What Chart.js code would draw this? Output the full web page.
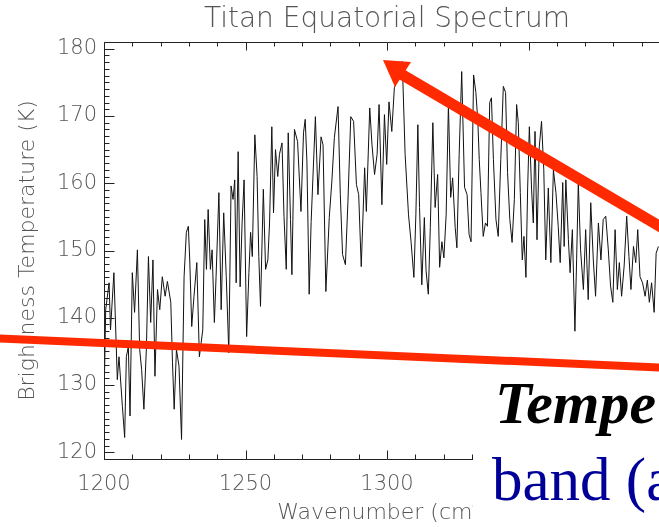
<!DOCTYPE html>
<html>
<head>
<meta charset="utf-8">
<title>Titan Equatorial Spectrum</title>
<script src="https://cdn.jsdelivr.net/npm/chart.js@4.4.1/dist/chart.umd.min.js"></script>
<style>
  html, body { margin: 0; padding: 0; background: #fff; width: 659px; height: 527px; overflow: hidden; }
  #spectrum { position: absolute; left: 0; top: 0; }
  #overlay { position: absolute; left: 0; top: 0; }
</style>
</head>
<body>
<canvas id="spectrum" width="774" height="527"></canvas>
<svg id="overlay" width="659" height="527">
  <rect x="473" y="372" width="186" height="155" fill="#fff"/>
  <text x="495" y="423" font-family="'Liberation Serif','Times New Roman',serif" font-size="60" font-weight="bold" font-style="italic" fill="#000">Tempe</text>
  <text x="492" y="500" font-family="'Liberation Serif','Times New Roman',serif" font-size="61" fill="#000099">band (a</text>
  <line x1="-10" y1="338" x2="670" y2="368" stroke="#ff2a00" stroke-width="8"/>
  <line x1="665" y1="229.5" x2="401" y2="74" stroke="#ff2a00" stroke-width="11"/>
  <polygon points="383,60 411,62 395,87" fill="#ff2a00"/>
</svg>
<script>
// spectrum (wavenumber in cm-1, brightness temperature in K)
const wavenumbers = [
  1200.0, 1200.6, 1201.8, 1202.3, 1203.5, 1204.7, 1205.3, 1206.5, 1207.3, 1207.9,
  1208.6, 1209.2, 1210.0, 1210.8, 1211.8, 1212.6, 1213.3, 1214.1, 1215.0, 1215.7,
  1216.5, 1217.3, 1218.0, 1218.9, 1219.7, 1220.6, 1221.6, 1222.4, 1223.6, 1224.2,
  1224.8, 1225.6, 1226.5, 1227.4, 1228.3, 1229.1, 1229.8, 1230.3, 1231.0, 1231.8,
  1232.8, 1233.7, 1234.9, 1235.6, 1236.2, 1236.8, 1237.6, 1238.2, 1239.0, 1239.6,
  1240.6, 1241.4, 1242.3, 1243.2, 1244.1, 1244.9, 1245.6, 1246.2, 1246.7, 1247.4,
  1248.1, 1248.8, 1249.5, 1250.4, 1251.2, 1251.8, 1252.4, 1253.3, 1254.1, 1254.7,
  1255.3, 1256.3, 1257.1, 1257.9, 1258.5, 1259.3, 1259.9, 1260.6, 1261.4, 1262.0,
  1262.9, 1263.6, 1264.4, 1265.1, 1265.9, 1266.4, 1267.3, 1268.4, 1269.6, 1270.5,
  1271.1, 1271.7, 1272.5, 1273.2, 1274.7, 1275.6, 1276.7, 1277.4, 1278.4, 1279.6,
  1280.5, 1281.4, 1282.7, 1283.5, 1284.3, 1285.3, 1286.2, 1287.2, 1288.2, 1289.2,
  1290.0, 1290.9, 1292.1, 1292.7, 1293.9, 1294.7, 1295.6, 1296.5, 1297.2, 1298.2,
  1299.1, 1299.9, 1300.7, 1301.7, 1302.6, 1303.4, 1304.6, 1305.4, 1306.4, 1307.6,
  1308.5, 1309.5, 1310.2, 1310.9, 1311.5, 1312.3, 1313.2, 1313.8, 1314.6, 1315.3,
  1316.2, 1317.0, 1317.9, 1318.6, 1319.4, 1320.1, 1320.9, 1321.7, 1322.5, 1323.2,
  1324.1, 1324.7, 1325.5, 1326.4, 1327.4, 1328.3, 1329.0, 1329.7, 1330.6, 1331.4,
  1332.1, 1332.6, 1333.2, 1334.0, 1334.8, 1335.5, 1336.3, 1336.9, 1337.6, 1338.5,
  1339.3, 1340.2, 1341.1, 1341.9, 1342.6, 1343.4, 1344.2, 1345.0, 1345.8, 1346.4,
  1347.1, 1347.8, 1348.4, 1349.1, 1349.7, 1350.3, 1351.1, 1351.7, 1352.3, 1353.0,
  1353.8, 1354.6, 1355.4, 1356.1, 1357.0, 1357.9, 1358.8, 1359.7, 1360.5, 1361.2,
  1362.1, 1362.6, 1363.2, 1364.1, 1364.7, 1365.5, 1366.4, 1367.0, 1367.6, 1368.4,
  1369.4, 1370.2, 1371.1, 1372.0, 1372.9, 1373.7, 1374.7, 1375.6, 1376.4, 1377.3,
  1378.2, 1379.0, 1379.8, 1380.6, 1381.4, 1382.1, 1382.9, 1383.8, 1384.7, 1385.5,
  1386.2, 1387.1, 1387.9, 1388.6, 1389.4, 1390.3, 1391.2, 1392.0, 1392.7, 1393.5,
  1394.4, 1395.1, 1395.9
];
const brightnessTemps = [
  127.4, 141.2, 145.2, 138.2, 146.7, 130.8, 134.2, 126.8, 122.2, 134.2,
  135.7, 125.4, 146.7, 140.8, 150.1, 135.3, 132.3, 126.4, 135.7, 149.1,
  139.3, 148.6, 131.3, 144.2, 141.2, 146.1, 143.2, 145.4, 142.3, 133.3,
  126.4, 135.3, 132.8, 121.9, 146.1, 152.7, 153.6, 148.6, 138.7, 143.2,
  148.2, 134.2, 138.2, 154.6, 147.2, 156.1, 147.2, 150.1, 139.3, 146.1,
  158.6, 141.2, 155.6, 146.1, 134.8, 159.6, 157.6, 160.5, 145.2, 164.7,
  144.6, 154.1, 160.5, 137.2, 146.7, 152.7, 149.1, 167.2, 161.0, 149.1,
  141.7, 159.1, 147.2, 148.6, 154.1, 168.4, 155.6, 165.0, 161.0, 164.3,
  166.0, 155.1, 147.2, 167.5, 154.6, 146.4, 168.0, 166.2, 155.8, 167.5,
  169.5, 163.2, 143.5, 154.3, 169.9, 158.3, 166.9, 165.7, 143.9, 154.9,
  160.2, 166.8, 171.4, 158.3, 149.4, 147.9, 157.3, 169.9, 169.2, 159.8,
  158.3, 147.6, 162.3, 155.8, 171.2, 165.7, 161.3, 164.3, 171.7, 156.8,
  170.2, 162.8, 172.1, 167.7, 174.2, 175.1, 176.1, 178.1, 164.3, 155.3,
  151.3, 146.0, 155.3, 168.7, 156.4, 144.9, 154.9, 147.0, 143.5, 153.4,
  169.0, 156.4, 161.3, 147.5, 151.3, 148.9, 155.3, 171.7, 157.9, 160.8,
  153.4, 150.4, 164.3, 176.6, 159.4, 158.3, 152.4, 151.3, 176.1, 173.5,
  169.2, 163.5, 158.6, 152.1, 154.1, 153.6, 172.0, 172.7, 163.5, 154.6,
  152.1, 163.5, 174.4, 173.5, 161.6, 154.6, 151.2, 157.6, 171.7, 169.0,
  158.6, 148.6, 152.1, 146.0, 159.3, 168.4, 159.0, 154.1, 167.7, 151.6,
  165.4, 169.2, 162.0, 148.6, 159.3, 148.2, 162.0, 158.6, 153.6, 148.2,
  160.1, 150.6, 160.5, 151.6, 146.7, 153.1, 138.0, 148.6, 160.1, 150.1,
  144.2, 153.1, 142.7, 157.1, 148.6, 143.2, 154.1, 148.6, 154.6, 155.1,
  150.1, 144.7, 142.3, 153.1, 144.2, 148.2, 143.2, 147.7, 155.1, 149.1,
  144.2, 150.6, 148.2, 153.1, 146.1, 145.2, 143.2, 145.6, 142.3, 145.2,
  140.8, 149.6, 150.6
];

const xAxisTicks = [1200, 1250, 1300, 1350, 1400];
const yAxisTicks = [120, 130, 140, 150, 160, 170, 180];
const xRange = [1200, 1400];
const yRange = [119, 181];
const xMinorStep = 10;
const yMinorStep = 1;

const textColor = '#555';
const axisColor = '#222';
const plotFont = "'DejaVu Sans', 'Liberation Sans', sans-serif";

// IDL style frame: box on four sides with ticks pointing inward
const inwardTicks = {
    id: 'inwardTicks',
    afterDatasetsDraw(chart) {
        const { ctx, chartArea: a, scales: { x, y } } = chart;
        const L = Math.round(a.left) + 0.5, R = Math.round(a.right) + 0.5;
        const T = Math.round(a.top) + 0.5, B = Math.round(a.bottom) + 0.5;
        ctx.save();
        ctx.strokeStyle = axisColor;
        ctx.lineWidth = 1;
        ctx.beginPath();
        ctx.rect(L, T, R - L, B - T);
        for (let v = xRange[0]; v <= xRange[1]; v += xMinorStep) {
            const px = Math.round(x.getPixelForValue(v)) + 0.5;
            const major = xAxisTicks.includes(v);
            ctx.moveTo(px, B); ctx.lineTo(px, B - (major ? 9 : 5));
            ctx.moveTo(px, T); ctx.lineTo(px, T + (major ? 8 : 4));
        }
        for (let v = yRange[0]; v <= yRange[1]; v += yMinorStep) {
            const py = Math.round(y.getPixelForValue(v)) + 0.5;
            const major = yAxisTicks.includes(v);
            ctx.moveTo(L, py); ctx.lineTo(L + (major ? 10 : 5), py);
            ctx.moveTo(R, py); ctx.lineTo(R - (major ? 10 : 5), py);
        }
        ctx.stroke();
        ctx.restore();
    }
};

const ctx = document.getElementById('spectrum').getContext('2d');
new Chart(ctx, {
    type: 'line',
    data: {
        datasets: [{
            data: wavenumbers.map((w, i) => ({ x: w, y: brightnessTemps[i] })),
            borderColor: '#111',
            borderWidth: 1,
            pointRadius: 0,
            tension: 0,
            fill: false
        }]
    },
    options: {
        responsive: false,
        animation: false,
        devicePixelRatio: 1,
        layout: { padding: { left: 0, right: 104, top: 0, bottom: 0 } },
        plugins: {
            legend: { display: false },
            tooltip: { enabled: false },
            title: {
                display: true,
                fullSize: false,
                text: 'Titan Equatorial Spectrum',
                color: textColor,
                font: { family: plotFont, size: 28, weight: '200', lineHeight: 1.2 },
                padding: { top: 3, bottom: 5.4 }
            }
        },
        scales: {
            x: {
                type: 'linear',
                min: xRange[0],
                max: xRange[1],
                afterBuildTicks: s => { s.ticks = xAxisTicks.map(v => ({ value: v })); },
                afterFit: s => { s.height = 68; },
                grid: { display: false, drawTicks: false },
                border: { display: false },
                ticks: {
                    color: textColor,
                    padding: 13,
                    maxRotation: 0,
                    autoSkip: false,
                    font: { family: plotFont, size: 21, weight: '200' },
                    callback: v => String(v)
                },
                title: {
                    display: true,
                    text: 'Wavenumber (cm⁻¹)',
                    color: textColor,
                    font: { family: plotFont, size: 22, weight: '200', lineHeight: 1.2 },
                    padding: { top: 0, bottom: 1 }
                }
            },
            y: {
                min: yRange[0],
                max: yRange[1],
                afterBuildTicks: s => { s.ticks = yAxisTicks.map(v => ({ value: v })); },
                afterFit: s => { s.width = 104; },
                grid: { display: false, drawTicks: false },
                border: { display: false },
                ticks: {
                    color: textColor,
                    padding: 7,
                    font: { family: plotFont, size: 21, weight: '200' },
                    callback: v => String(v)
                },
                title: {
                    display: true,
                    text: 'Brightness Temperature (K)',
                    color: textColor,
                    font: { family: plotFont, size: 22, weight: '200', lineHeight: 1.2 },
                    padding: { top: 15, bottom: 0 }
                }
            }
        }
    },
    plugins: [inwardTicks]
});
</script>
</body>
</html>
